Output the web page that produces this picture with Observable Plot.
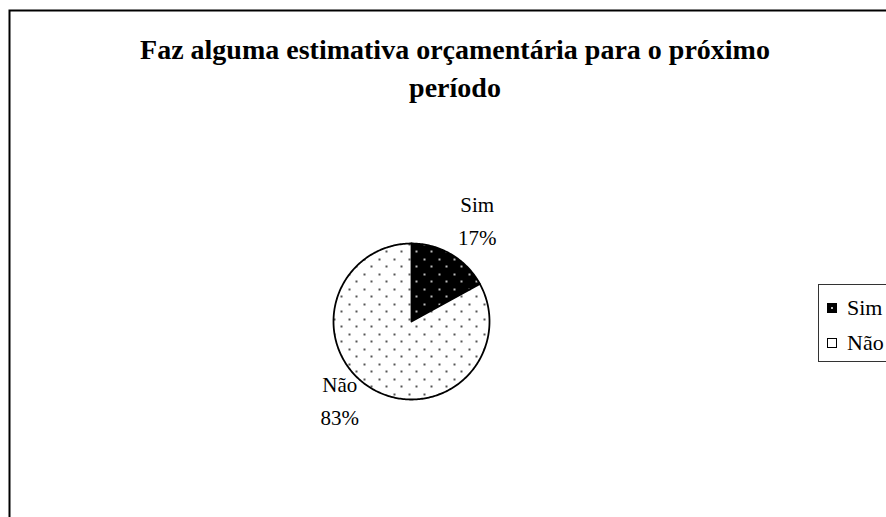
<!DOCTYPE html>
<html><head><meta charset="utf-8">
<script src="https://cdn.jsdelivr.net/npm/d3@7"></script>
<script src="https://cdn.jsdelivr.net/npm/@observablehq/plot@0.6"></script>
<style>
html,body{margin:0;padding:0;overflow:hidden;background:#fff;width:886px;height:517px}
#wrap{position:relative;width:886px;height:517px;overflow:hidden}
#chart svg{max-width:none !important;display:block}
#legend{position:absolute;left:818px;top:284px;width:100px;height:76px;border:1px solid #333;background:#fff;font-family:"Liberation Serif","Times New Roman",serif;font-size:22px;color:#000}
.row{position:absolute;left:0;height:22px;line-height:22px;white-space:nowrap;width:100px}
.sw{position:absolute;left:8px;top:6px;box-sizing:border-box}
.lt{position:absolute;left:28px;top:0;font-family:"Liberation Serif","Times New Roman",serif}
</style>
</head><body><div id="wrap"><div id="chart"></div><div id="legend"></div></div>
<script>
const title = ["Faz alguma estimativa orçamentária para o próximo", "período"];
const categories = ["Sim", "Não"];
const percents = [17, 83];
const percentLabels = ["17%", "83%"];
const legendItems = ["Sim", "Não"];

const total = d3.sum(percents);
let acc = 0;
const slices = categories.map((c, i) => {
  const a0 = acc / total * 2 * Math.PI;
  acc += percents[i];
  const a1 = acc / total * 2 * Math.PI;
  return {c, a0, a1, mid: (a0 + a1) / 2, label: c + "\n" + percentLabels[i]};
});
const pts = slices.flatMap(s => {
  const n = Math.max(2, Math.ceil((s.a1 - s.a0) / (Math.PI / 180)));
  const arr = [{c: s.c, x: 0, y: 0}];
  for (let k = 0; k <= n; k++) {
    const a = s.a0 + (s.a1 - s.a0) * k / n;
    arr.push({c: s.c, x: Math.sin(a), y: Math.cos(a)});
  }
  arr.push({c: s.c, x: 0, y: 0});
  return arr;
});

const cx = 411, cy = 321, r = 78;
const serif = "Liberation Serif, Times New Roman, serif";
const k = (r + 4) / r;
const rightLabels = slices.filter(s => Math.sin(s.mid) >= 0);
const leftLabels = slices.filter(s => Math.sin(s.mid) < 0);

const svg = Plot.plot({
  width: 900, height: 530,
  marginLeft: 9, marginTop: 10, marginRight: 0, marginBottom: 0,
  style: {background: "white", overflow: "visible", maxWidth: "none"},
  x: {domain: [-1, 1], range: [cx - r, cx + r], axis: null},
  y: {domain: [-1, 1], range: [cy + r, cy - r], axis: null},
  color: {domain: categories, range: ["url(#patSim)", "url(#patNao)"]},
  marks: [
    Plot.frame({stroke: "black", strokeWidth: 2}),
    Plot.line(pts, {x: "x", y: "y", z: "c", fill: "c", stroke: "black", strokeWidth: 1.8, strokeLinejoin: "round", curve: "linear"}),
    Plot.text(rightLabels, {x: s => k * Math.sin(s.mid), y: s => k * Math.cos(s.mid), text: "label",
      dx: 24, dy: -33, fontSize: 21, fontFamily: serif, lineHeight: 1.57, fill: "black"}),
    Plot.text(leftLabels, {x: s => k * Math.sin(s.mid), y: s => k * Math.cos(s.mid), text: "label",
      dx: -30, dy: 6, fontSize: 21, fontFamily: serif, lineHeight: 1.57, fill: "black"}),
    Plot.text([title.join("\n")], {frameAnchor: "top", lineAnchor: "top", dy: 21, fontSize: 28,
      fontWeight: "bold", fontFamily: serif, lineHeight: 1.36, fill: "black"})
  ]
});

const defs = d3.select(svg).insert("defs", ":first-child");
function pattern(id, bg, dot) {
  const p = defs.append("pattern").attr("id", id).attr("patternUnits", "userSpaceOnUse")
    .attr("width", 15).attr("height", 15);
  p.append("rect").attr("width", 15).attr("height", 15).attr("fill", bg);
  p.append("rect").attr("x", 3).attr("y", 3).attr("width", 2).attr("height", 2).attr("fill", dot);
  p.append("rect").attr("x", 10).attr("y", 10).attr("width", 2).attr("height", 2).attr("fill", dot);
}
pattern("patSim", "black", "#bbb");
pattern("patNao", "white", "#555");
document.getElementById("chart").appendChild(svg);

const legend = d3.select("#legend");
legendItems.forEach((name, i) => {
  const row = legend.append("div").attr("class", "row").style("top", (12 + i * 35) + "px");
  const sw = row.append("div").attr("class", "sw")
    .style("background", i === 0 ? "black" : "white")
    .style("border", i === 0 ? "none" : "1px solid black")
    .style("width", "10px").style("height", "10px");
  if (i === 0) sw.append("div").style("position", "absolute").style("left", "4px").style("top", "4px")
    .style("width", "2px").style("height", "2px").style("background", "#bbb");
  row.append("span").attr("class", "lt").text(name);
});
</script>
</body></html>
